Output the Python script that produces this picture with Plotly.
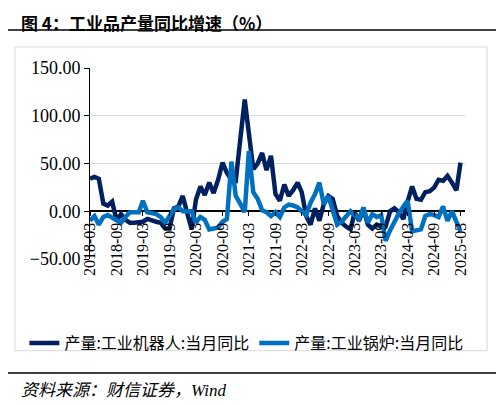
import pandas as pd
import plotly.graph_objects as go

# monthly dates, 2018-03 .. 2025-03
months = pd.date_range("2018-03-01", "2025-03-01", freq="MS")

# 产量:工业机器人:当月同比 (%)
robot_yoy = [
    34, 36, 34, 8, 6, 10, -10, -3, -9, -12,
    -12, -12, -11, -8, -10, -11, -12, -18, -18, 3,
    5, 16, -2, -19, 12, 26, 17, 30, 19, 33,
    51, 40, 33, 32, 75, 117, 82, 44, 50, 61,
    43, 58, 18, 11, 28, 16, 22, 30, 20, -5,
    -14, 3, -10, 8, 16, 13, -5, -12, -16, -19,
    -1, -10, 2, -14, -18, -14, -16, -16, 0, 3,
    -1, -8, 10, 26, 13, 12, 20, 21, 25, 33,
    32, 37, 30, 22, 51,
]

# 产量:工业锅炉:当月同比 (%)
boiler_yoy = [
    -10, -5, -14, -6, -4, -7, -10, -12, -6, -1,
    -1, -1, 11, -1, -2, -3, -6, -12, -5, 2,
    4, 0, 0, 0, -12, -6, -9, -19, -18, -17,
    -11, -8, 52, 16, 8, -1, 63, 20, 13, 1,
    -1, -5, -1, -6, 4, 7, 6, 4, 0, -4,
    9, 18, 30, 7, 16, 1, -14, -11, -5, 0,
    -4, -8, 4, -12, -3, -6, -4, -31, -20, -10,
    -2, 5, 11, -21, -20, -19, -5, -3, -4, -6,
    5, -10, 0, -12, -21,
]

tick_dates = pd.date_range("2018-03-01", "2025-03-01", freq="6MS")
y_ticks = [-50, 0, 50, 100, 150]

fig = go.Figure()

fig.add_trace(go.Scatter(
    x=months, y=robot_yoy,
    name="产量:工业机器人:当月同比",
    mode="lines",
    line=dict(color="#002060", width=4.5),
))

fig.add_trace(go.Scatter(
    x=months, y=boiler_yoy,
    name="产量:工业锅炉:当月同比",
    mode="lines",
    line=dict(color="#0070C0", width=4.5),
))

serif = "Liberation Serif, Times New Roman, serif"
cjk = "Noto Sans CJK SC, sans-serif"

fig.update_xaxes(
    type="date",
    range=["2018-03-01", "2025-04-01"],
    tickvals=tick_dates,
    tickformat="%Y-%m",
    tickangle=-90,
    ticks="outside", ticklen=4, tickcolor="black",
    showgrid=False, showline=False, zeroline=False,
    anchor="free", position=0.25,
    tickfont=dict(family=serif, size=16, color="black"),
)

fig.update_yaxes(
    range=[-50, 150],
    tickvals=y_ticks,
    tickformat=".2f",
    ticks="outside", ticklen=5, tickcolor="black",
    showline=True, linecolor="black", linewidth=1,
    showgrid=True, gridcolor="#d9d9d9", gridwidth=1,
    zeroline=True, zerolinecolor="black", zerolinewidth=1.5,
    tickfont=dict(family=serif, size=18, color="black"),
)

# header / footer rules and chart frame
fig.add_shape(type="line", xref="paper", yref="paper",
              x0=-0.227, x1=1.088, y0=1.199, y1=1.199,
              line=dict(color="black", width=1.5))
fig.add_shape(type="line", xref="paper", yref="paper",
              x0=-0.227, x1=1.088, y0=-0.597, y1=-0.597,
              line=dict(color="black", width=1.5))
fig.add_shape(type="rect", xref="paper", yref="paper",
              x0=-0.2, x1=1.059, y0=-0.48, y1=1.11,
              line=dict(color="#d9d9d9", width=1))

fig.add_annotation(
    text="<b>图 4：工业品产量同比增速（%）</b>",
    xref="paper", yref="paper", x=-0.19, y=1.312,
    xanchor="left", yanchor="top", showarrow=False,
    font=dict(family=cjk, size=17, color="black"),
)
fig.add_annotation(
    text="<i>资料来源：财信证券，Wind</i>",
    xref="paper", yref="paper", x=-0.19, y=-0.686,
    xanchor="left", yanchor="middle", showarrow=False,
    font=dict(family="Liberation Serif, Noto Sans CJK SC, serif", size=17, color="black"),
)

# page has an 8px body margin, so the figure is 8px smaller and shifted
fig.update_layout(
    width=496, height=397,
    margin=dict(l=82, r=39, t=60, b=146),
    paper_bgcolor="white", plot_bgcolor="white",
    showlegend=True,
    legend=dict(
        orientation="h", x=-0.175, y=-0.44,
        xanchor="left", yanchor="middle",
        font=dict(family=cjk, size=16, color="black"),
        itemwidth=30, tracegroupgap=0,
        bgcolor="rgba(0,0,0,0)",
    ),
)

fig.write_html("out.html")
